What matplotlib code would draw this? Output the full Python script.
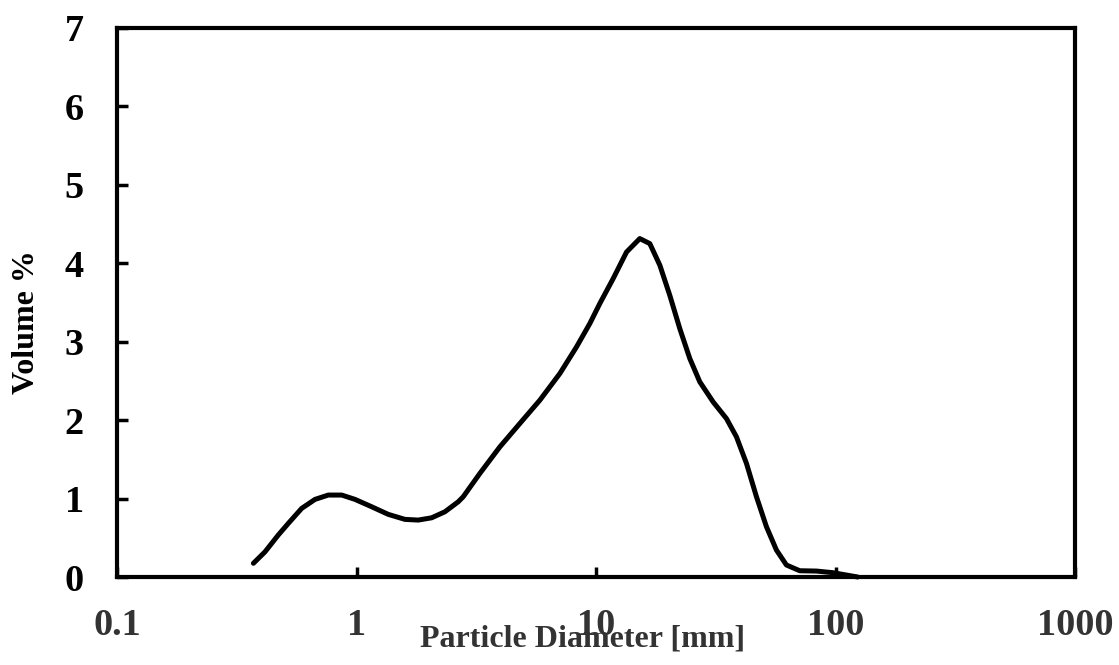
import matplotlib
matplotlib.use("Agg")
import matplotlib.pyplot as plt
from matplotlib.ticker import FixedLocator, NullLocator

# particle size distribution (diameter in mm, volume %)
diameter = [0.371, 0.415, 0.471, 0.519, 0.590, 0.671, 0.762, 0.867, 0.985, 1.156,
            1.356, 1.592, 1.809, 2.058, 2.339, 2.658, 2.788, 3.273, 3.968, 4.808,
            5.828, 7.063, 8.29, 9.42, 10.37, 11.79, 13.41, 15.23, 16.77, 18.47,
            20.32, 22.37, 24.63, 27.12, 30.82, 35.04, 38.58, 42.48, 46.76, 51.47,
            56.65, 62.37, 70.9, 83.2, 97.6, 111.1, 123.8]
volume = [0.175, 0.322, 0.535, 0.684, 0.875, 0.990, 1.045, 1.045, 0.990, 0.896,
          0.799, 0.735, 0.726, 0.755, 0.832, 0.959, 1.023, 1.321, 1.660, 1.958,
          2.255, 2.595, 2.934, 3.232, 3.487, 3.805, 4.144, 4.315, 4.251, 3.975,
          3.592, 3.168, 2.786, 2.488, 2.233, 2.020, 1.787, 1.448, 1.023, 0.641,
          0.344, 0.153, 0.080, 0.076, 0.055, 0.025, 0.0]

x_ticks = [0.1, 1, 10, 100, 1000]
x_ticklabels = ["0.1", "1", "10", "100", "1000"]
y_ticks = [0, 1, 2, 3, 4, 5, 6, 7]

plt.rcParams['font.family'] = ['Liberation Serif', 'DejaVu Serif']
plt.rcParams['font.weight'] = 'bold'

fig = plt.figure(figsize=(11.19, 6.65), dpi=100)
ax = fig.add_axes([0.1046, 0.1323, 0.8561, 0.8256])

ax.plot(diameter, volume, color='black', lw=3.6, solid_joinstyle='round',
        solid_capstyle='round', clip_on=False)

ax.set_xscale('log')
ax.set_xlim(0.1, 1000)
ax.set_ylim(0, 7)
ax.xaxis.set_major_locator(FixedLocator(x_ticks))
ax.xaxis.set_minor_locator(NullLocator())
ax.set_xticklabels(x_ticklabels)
ax.set_yticks(y_ticks)

for s in ax.spines.values():
    s.set_linewidth(3.0)

ax.tick_params(axis='x', direction='in', length=7, width=2.5, pad=22,
               labelsize=27.5, labelcolor='#333333')
ax.tick_params(axis='y', direction='in', length=8, width=2.5, pad=24,
               labelsize=27.5, labelcolor='black')
for lab in ax.get_xticklabels() + ax.get_yticklabels():
    lab.set_fontweight('bold')

ax.set_xlabel('Particle Diameter [mm]', fontsize=23, fontweight='bold',
              color='#333333', va='center')
ax.xaxis.set_label_coords(0.486, -0.112)
ax.set_ylabel('Volume %', fontsize=23, fontweight='bold', color='black',
              va='center')
ax.yaxis.set_label_coords(-0.095, 0.464)

fig.savefig('out.png', dpi=100)
